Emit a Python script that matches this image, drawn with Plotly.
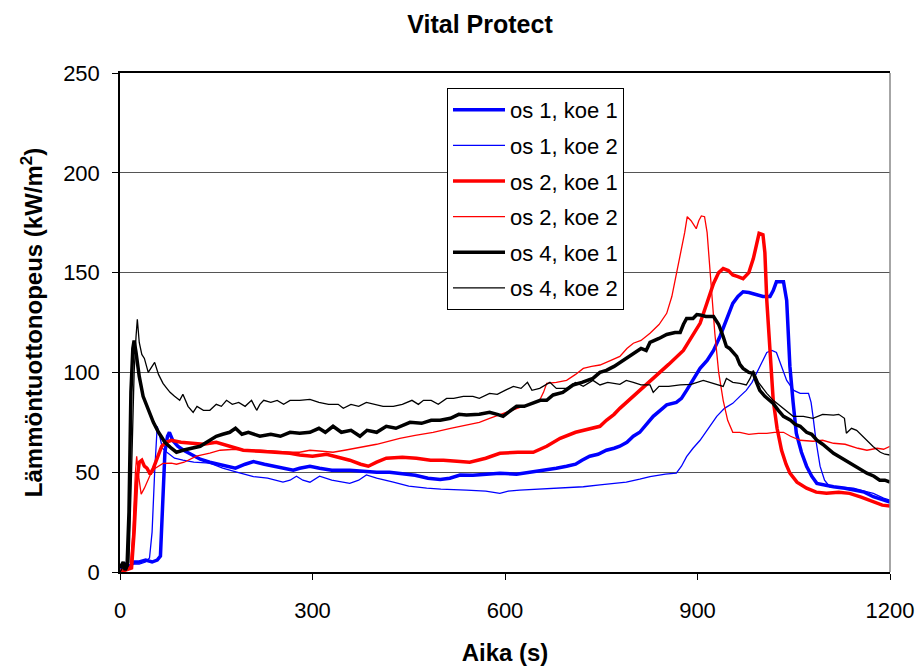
import plotly.graph_objects as go

# (time s, heat release rate kW/m2) pairs
os1_koe1 = [(0,2),(8,4),(15,3),(22,5),(30,5),(40,6),(50,5),(58,6),(63,8),(66,30),(70,60),(74,68),(77,70),(82,66),(90,63),(99,61),(110,59),(125,56.5),(140,55),(155,54),(166,53),(180,52),(195,54),(208,55.3),(225,54),(240,53),(254,52),(270,51),(280,52),(296,53),(311,52),(330,51),(358,51),(380,50.5),(400,50),(420,50),(436,49.5),(460,48.5),(480,47),(499,46.4),(514,47),(530,48.6),(550,48.5),(570,49),(592,49.5),(618,49),(640,50),(660,51),(680,52),(696,53),(710,54),(720,56),(732,58),(745,59),(758,61),(770,62),(779,63),(790,65),(800,68),(810,70),(820,74),(831,78),(842,81),(852,83.7),(867,85),(875,87),(883,91),(893,96),(904,102),(915,106),(925,111),(935,118),(945,126),(955,134.6),(963,138),(971,140.4),(980,140),(992,139),(1002,138),(1013,138),(1018,141),(1023,145.4),(1034,145.4),(1039,136),(1044,103),(1049,85),(1054,69.5),(1062,60),(1070,53),(1078,48),(1086,44.4),(1100,43.5),(1112,42.7),(1130,42),(1143,41),(1160,40),(1174,37.7),(1190,36),(1200,35)]

os1_koe2 = [(0,2),(10,3),(20,4),(30,4),(40,5),(46,7),(50,20),(54,50),(58,73),(62,68),(66,62),(73,60),(85,57),(98,56),(115,55),(140,54.5),(160,52),(182,50),(195,49),(208,47.8),(230,47),(254,45),(265,46),(275,48),(285,46),(296,45),(311,48),(330,46),(358,44.4),(372,46),(384,48.6),(400,47),(426,45),(450,43),(478,42),(500,41.5),(540,41),(570,40.5),(592,39.4),(605,40.5),(623,41),(650,41.5),(670,42),(700,42.5),(722,42.7),(748,43.6),(779,44.4),(789,45),(810,46.5),(826,47.8),(850,49),(867,49.5),(875,53),(883,57.8),(893,62),(904,66),(917,72),(930,78),(942,82),(955,84.5),(966,88),(976,91),(985,95),(992,99.5),(1000,105),(1008,110),(1016,111),(1023,110),(1031,103),(1039,96),(1050,91),(1060,89.5),(1073,89.5),(1077,85),(1080,78),(1085,65),(1091,53),(1098,46),(1106,42.7),(1125,42.3),(1143,42),(1160,40.5),(1174,39.4),(1190,37),(1200,36)]

os2_koe1 = [(0,0),(10,1),(18,2),(22,20),(26,45),(30,55),(34,56),(38,53),(42,52),(47,49),(52,52),(58,57),(65,63),(72,65),(80,66),(95,65),(114,64.5),(130,64),(150,65),(170,63),(192,61),(218,60.5),(244,60),(265,59.5),(280,58.6),(300,58),(322,59),(340,57.5),(358,56),(375,54),(387,53),(400,55),(415,57),(440,57.5),(462,57),(484,56),(504,56),(525,55.5),(545,55),(570,57),(592,59.5),(620,60),(644,60),(665,63),(686,67),(710,70),(732,72),(748,73),(758,76),(770,79),(779,82),(800,88),(820,94),(836,98),(855,104),(878,111),(892,118),(904,124.6),(915,135),(925,144.6),(933,150),(940,152),(948,151),(955,148.8),(963,148),(971,147),(980,150),(987,157),(992,164),(996,169.7),(1002,169),(1005,160),(1008,136),(1013,110),(1018,86),(1024,72),(1031,61),(1038,54),(1044,49.5),(1055,45),(1070,42),(1085,40),(1101,39.4),(1120,40),(1137,39.4),(1155,37.5),(1174,35),(1188,33.5),(1200,33)]

os2_koe2 = [(0,1),(10,2),(16,3),(20,20),(24,50),(26,58),(29,48),(33,39),(38,42),(43,46),(47,48.6),(55,52),(67,54.4),(80,54.5),(88,54),(100,55),(119,58),(140,59.5),(156,61),(180,61.5),(200,61),(218,61),(240,60.5),(265,60),(280,60),(296,61),(315,60.5),(332,60),(350,61),(367,62),(384,63),(400,64),(418,65.5),(436,67),(460,68.5),(488,70),(515,72),(540,73.6),(560,75),(576,77),(598,79.5),(618,82),(636,84),(654,86),(660,90),(665,94.5),(680,95),(696,96),(710,99),(722,102),(735,103),(748,103.7),(765,106),(779,108),(790,112),(800,114.6),(812,116),(826,119.6),(840,124),(852,129.6),(860,138),(867,149.6),(875,161),(880,170),(884,178),(890,176),(898,172),(902,176),(906,178.4),(911,178),(915,170),(919,153),(923,135),(927,119.6),(933,100),(940,86),(947,76),(955,70),(966,70),(980,69),(995,69.5),(1008,69.5),(1020,70),(1034,70),(1045,68),(1060,66),(1080,65.5),(1095,66),(1112,64.5),(1130,64),(1150,62),(1164,61),(1180,62),(1190,61.5),(1200,63)]

os4_koe1 = [(0,2),(5,5),(8,1),(11,3),(14,30),(17,90),(20,112),(22,116),(25,110),(30,98),(36,88),(44,81),(52,75),(60,70),(70,65),(80,62),(88,60),(98,61),(110,62),(125,63),(135,65),(140,66),(150,68),(160,69),(171,70),(180,72),(190,69),(200,70),(218,68),(235,69),(250,68),(265,70),(280,69.5),(296,70),(310,72),(320,70),(332,73),(345,70),(360,71),(374,68),(385,71),(400,70),(415,73),(430,72),(452,75),(470,74.5),(485,76),(499,76),(515,77),(528,79),(540,78.6),(560,79),(576,80),(588,79),(597,78),(605,80),(618,83),(630,83),(644,84.5),(655,86),(665,86),(675,88.7),(690,90),(706,93.7),(720,95),(737,97),(748,100),(758,101),(770,103),(779,105),(790,107),(800,109.6),(812,112),(820,111),(826,115),(840,117),(852,119),(865,120),(873,120),(878,124),(883,127),(893,127),(899,129),(904,128.8),(913,128),(925,128),(933,124),(940,118),(945,113),(950,112),(955,110),(961,108),(966,104),(971,102),(980,100),(987,99.5),(992,95),(997,91),(1005,88),(1018,84.5),(1026,81),(1034,78),(1045,76),(1052,74),(1060,73),(1070,70),(1078,69),(1086,66),(1095,64),(1103,62),(1112,59.5),(1125,57),(1138,54.5),(1150,52),(1164,49.5),(1175,48),(1184,46),(1192,46),(1200,45)]

os4_koe2 = [(0,0),(6,3),(10,1),(14,5),(18,50),(22,100),(25,118),(27,126.6),(30,115),(34,109),(38,107),(44,100),(50,103),(54,105),(60,99),(67,94.5),(73,92),(78,90),(85,88),(93,86),(98,89),(106,83),(114,80),(120,83),(130,81),(140,81),(150,84),(158,83),(166,86),(175,84),(185,85),(195,83),(205,86),(213,81),(218,84),(224,86),(235,85),(245,86),(255,84),(265,86),(280,86),(296,86.5),(310,85),(325,84),(340,84),(348,82),(360,84),(372,83),(384,85),(395,84),(410,83),(426,83),(440,84),(455,86),(465,84),(473,86),(485,86),(496,84),(509,87),(520,87),(535,88),(550,88),(560,87),(576,89.5),(588,89),(600,91),(613,93),(625,92),(635,95),(642,91),(654,92),(670,95),(680,92),(696,92),(710,95),(722,93),(737,96),(748,93.7),(760,95),(779,94),(789,96),(800,95),(812,93.7),(826,93.7),(831,90),(840,93),(855,93),(873,93.7),(890,94),(909,96),(920,95),(932,94),(940,93),(945,97),(955,95),(966,94.5),(976,93.7),(982,97),(987,101),(995,95),(1008,89.5),(1018,86),(1029,83),(1040,80),(1049,78),(1065,78),(1080,77),(1095,79),(1112,78.6),(1120,79),(1129,77),(1132,69.5),(1140,72),(1148,71),(1160,67),(1174,62.8),(1185,60),(1192,59),(1200,58.6)]

series_names = ["os 1, koe 1", "os 1, koe 2", "os 2, koe 1", "os 2, koe 2", "os 4, koe 1", "os 4, koe 2"]
series_data = [os1_koe1, os1_koe2, os2_koe1, os2_koe2, os4_koe1, os4_koe2]
series_colors = ["#0000FF", "#0000FF", "#FF0000", "#FF0000", "#000000", "#000000"]
series_widths = [3.5, 1.3, 3.5, 1.3, 3.5, 1.3]

x_ticks = [0, 300, 600, 900, 1200]
y_ticks = [0, 50, 100, 150, 200, 250]

FONT = "Liberation Sans, Arial, sans-serif"

fig = go.Figure()
for i, (name, data, col, w) in enumerate(zip(series_names, series_data, series_colors, series_widths)):
    fig.add_trace(go.Scatter(
        x=[p[0] for p in data], y=[p[1] for p in data],
        mode="lines", name=name, legendgroup=f"g{i}",
        line=dict(color=col, width=w),
    ))

fig.update_layout(
    width=920, height=672,
    margin=dict(l=120, r=30, t=73, b=100),
    paper_bgcolor="white", plot_bgcolor="white",
    font=dict(family=FONT, color="black"),
    title=dict(text="<b>Vital Protect</b>", x=480/920, xanchor="center",
               y=1 - 24/672, yanchor="middle", font=dict(size=25, family=FONT)),
    showlegend=True,
    legend=dict(x=(447-120)/770, y=(572-88)/499, xanchor="left", yanchor="top",
                bgcolor="white", bordercolor="black", borderwidth=1,
                font=dict(size=22, family=FONT), tracegroupgap=4, itemwidth=52),
    xaxis=dict(range=[0, 1200], tickvals=x_ticks, ticktext=[str(v) for v in x_ticks],
               automargin=False,
               showgrid=False, zeroline=False, showline=True, linecolor="black",
               linewidth=1.5, mirror=True, ticks="outside", ticklen=6, tickcolor="black",
               tickfont=dict(size=22, family=FONT), ticklabelstandoff=12,
               title=dict(text="<b>Aika (s)</b>", font=dict(size=24, family=FONT), standoff=22)),
    yaxis=dict(range=[0, 250], tickvals=y_ticks, ticktext=[str(v) for v in y_ticks],
               automargin=False,
               showgrid=True, gridcolor="#555555", gridwidth=1, zeroline=False,
               showline=True, linecolor="black", linewidth=1.5, mirror=False,
               ticks="outside", ticklen=6, tickcolor="black",
               tickfont=dict(size=22, family=FONT), ticklabelstandoff=8,
               title=dict(text="<b>Lämmöntuottonopeus (kW/m<sup>2</sup>)</b>",
                          font=dict(size=24, family=FONT), standoff=14)),
)
fig.add_shape(type="line", xref="paper", yref="paper", x0=1, x1=1, y0=0, y1=1,
              line=dict(color="#888888", width=1.5))

fig.write_html("out.html")
